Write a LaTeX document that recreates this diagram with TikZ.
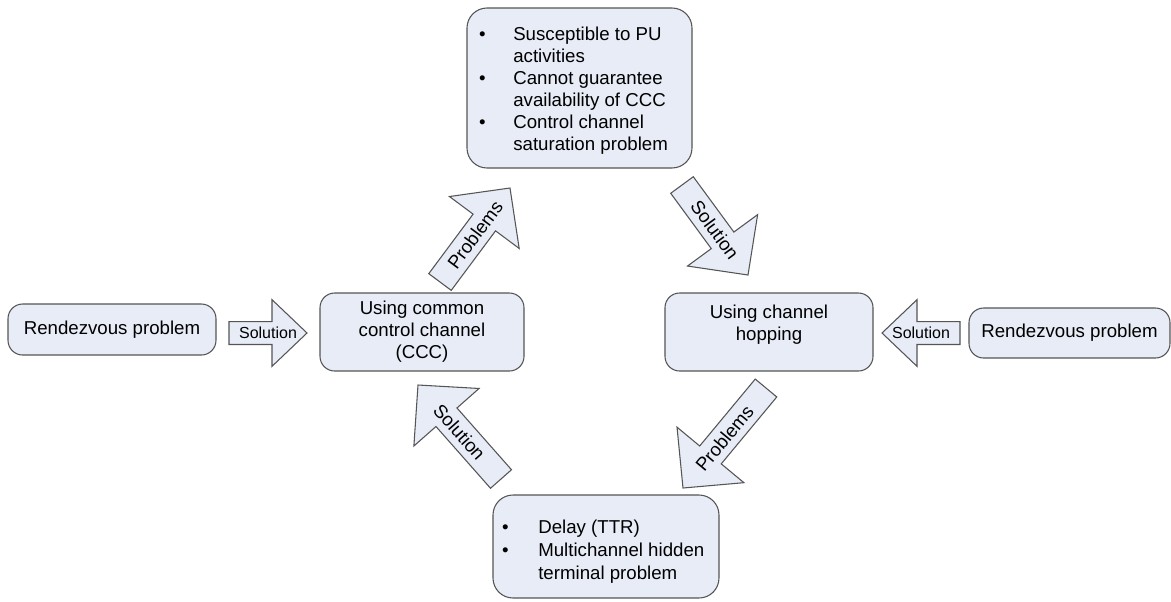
\documentclass[tikz,border=0pt]{standalone}
\usepackage{fontspec}
\setmainfont{Liberation Sans}
\usetikzlibrary{calc}
\definecolor{boxfill}{RGB}{231,236,247}
\definecolor{boxline}{RGB}{85,85,85}
\newcommand{\blockarr}[7]{%
  \coordinate (bah) at ($(#2)!#5!(#1)$);
  \draw[arrowshape] ($(#1)!#3!90:(#2)$) -- ($(bah)!#3!90:(#2)$) -- ($(bah)!#4!90:(#2)$) -- (#2) -- ($(bah)!#4!-90:(#2)$) -- ($(bah)!#3!-90:(#2)$) -- ($(#1)!#3!-90:(#2)$) -- cycle;
  \path (#1) -- (#2) node[midway, sloped, inner sep=0pt, font=#6] {#7};
}
\begin{document}
\begin{tikzpicture}[x=0.75pt,y=-0.75pt,
  box/.style={draw=boxline, fill=boxfill, line width=0.8pt, rounded corners=11pt, inner sep=0pt, align=center, font=\fontsize{14}{16.5}\selectfont},
  bigbox/.style={box, rounded corners=15pt},
  arrowshape/.style={draw=boxline, fill=boxfill, line width=0.8pt, line join=miter},
  txt/.style={inner sep=0pt, align=center, font=\fontsize{14}{16.5}\selectfont},
  lst/.style={inner sep=0pt, anchor=base west},
]
\useasboundingbox (0,0) rectangle (1171,601);
\fill[white] (0,0) rectangle (1171,601);

% boxes
\node[box, minimum width=156pt, minimum height=38.25pt] (rl) at (112,329.5) {Rendezvous problem};
\node[box, minimum width=153pt, minimum height=58.5pt] (ccc) at (422,332) {Using common\\control channel\\(CCC)};
\node[box, minimum width=156pt, minimum height=58.5pt] (hop) at (769,332) {};
\node[txt] (hoptext) at (769,325) {Using channel\\hopping};
\node[box, minimum width=150.75pt, minimum height=37.5pt] (rr) at (1069.5,333) {Rendezvous problem};
\node[bigbox, minimum width=168.75pt, minimum height=120pt] (top) at (579.5,88) {};
\node[bigbox, minimum width=169.5pt, minimum height=77.25pt] (bot) at (606,546.5) {};

% lists
\node[lst] (toplist) at (478.75,40) {\fontsize{14}{16.5}\selectfont
  \begin{tabular}[t]{@{}p{25.7pt}@{}l@{}}
  \textbullet & Susceptible to PU\\
   & activities\\
  \textbullet & Cannot guarantee\\
   & availability of CCC\\
  \textbullet & Control channel\\
   & saturation problem
  \end{tabular}};
\node[lst] (botlist) at (501.75,533) {\fontsize{14}{17.25}\selectfont
  \begin{tabular}[t]{@{}p{27.2pt}@{}l@{}}
  \textbullet & Delay (TTR)\\
  \textbullet & Multichannel hidden\\
   & terminal problem
  \end{tabular}};

% arrow end points
\coordinate (a1t) at (229,333);  \coordinate (a1h) at (307,333);
\coordinate (a2t) at (960,333);  \coordinate (a2h) at (882,333);
\coordinate (a3t) at (440,282);  \coordinate (a3h) at (510,188);
\coordinate (a4t) at (682,185);  \coordinate (a4h) at (748,275);
\coordinate (a5t) at (766,388);  \coordinate (a5h) at (683,488);
\coordinate (a6t) at (501,479);  \coordinate (a6h) at (418,385);

\blockarr{a1t}{a1h}{8.6pt}{25pt}{26.25pt}{\fontsize{12}{14}\selectfont}{Solution}
\blockarr{a2t}{a2h}{8.6pt}{25pt}{26.25pt}{\fontsize{12}{14}\selectfont}{Solution}
\blockarr{a3t}{a3h}{10.5pt}{32.6pt}{32.25pt}{\fontsize{14}{16}\selectfont}{Problems}
\blockarr{a4t}{a4h}{10.5pt}{32.6pt}{32.25pt}{\fontsize{14}{16}\selectfont}{Solution}
\blockarr{a5t}{a5h}{10.5pt}{32.6pt}{32.25pt}{\fontsize{14}{16}\selectfont}{Problems}
\blockarr{a6t}{a6h}{10.5pt}{32.6pt}{32.25pt}{\fontsize{14}{16}\selectfont}{Solution}
\end{tikzpicture}
\end{document}
